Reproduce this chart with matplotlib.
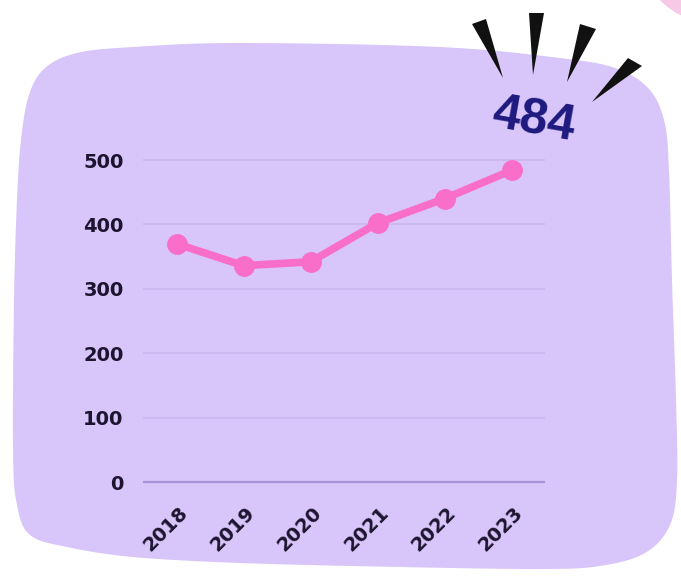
import numpy as np
import matplotlib.pyplot as plt
from matplotlib.patches import Polygon, Circle
from matplotlib.transforms import ScaledTranslation

years = ['2018', '2019', '2020', '2021', '2022', '2023']
values = [370, 336, 342, 402, 440, 484]
yticks = [0, 100, 200, 300, 400, 500]
highlight = '484'

W, H = 681, 576
fig = plt.figure(figsize=(W / 100, H / 100), dpi=100)
fig.patch.set_facecolor('white')

# background decoration, drawn in pixel coords
bg = fig.add_axes([0, 0, 1, 1], zorder=0)
bg.set_xlim(0, W)
bg.set_ylim(H, 0)
bg.axis('off')

bg.add_patch(Circle((720, -60), 85, color='#f7c9e6', lw=0))

edge = [(77, 53), (133, 47), (240, 43), (440, 47), (560, 58), (615, 68),
        (648, 88), (664, 120), (669, 170), (672, 280), (676, 400),
        (677, 480), (670, 525), (645, 553), (600, 566), (540, 569),
        (400, 567), (240, 563), (133, 557), (67, 547), (30, 535),
        (17, 505), (13, 450), (14, 300), (17, 200), (21, 140), (29, 95),
        (45, 68)]


def smooth(pts, n=12):
    # closed catmull-rom through the outline points
    p = np.array(pts, dtype=float)
    out = []
    k = len(p)
    for i in range(k):
        p0, p1, p2, p3 = p[i - 1], p[i], p[(i + 1) % k], p[(i + 2) % k]
        for t in np.linspace(0, 1, n, endpoint=False):
            t2, t3 = t * t, t * t * t
            out.append(0.5 * (2 * p1 + (-p0 + p2) * t
                              + (2 * p0 - 5 * p1 + 4 * p2 - p3) * t2
                              + (-p0 + 3 * p1 - 3 * p2 + p3) * t3))
    return np.array(out)


bg.add_patch(Polygon(smooth(edge), closed=True, color='#d8c5f9', lw=0))

# black burst strokes around the big number
rays = [[(472, 24), (486, 19), (503, 78)],
        [(529, 13), (544, 13), (533, 75)],
        [(580, 24), (596, 29), (567, 82)],
        [(628, 58), (642, 66), (592, 102)]]
for r in rays:
    bg.add_patch(Polygon(r, closed=True, color='#111111', lw=0))

bg.text(534, 120, highlight, fontsize=36, family='Liberation Sans',
        fontweight='bold', color='#1e1a7e', ha='center', va='center',
        rotation=-10)

# main chart
ax = fig.add_axes([0.2100, 0.1576, 0.5903, 0.5701], zorder=1)
ax.set_facecolor('none')
x = np.arange(len(years))
ax.plot(x, values, color='#f96ec8', lw=5.5, marker='o', ms=14,
        solid_capstyle='round', clip_on=False, zorder=3)

ax.set_xlim(-0.5, len(years) - 0.5)
ax.set_ylim(-5, 505)
ax.set_yticks(yticks)
ax.set_yticklabels([str(v) for v in yticks])
ax.set_xticks(x)
ax.set_xticklabels(years)

for v in yticks:
    if v == 0:
        ax.axhline(v, color='#a893d9', lw=1.6, zorder=1)
    else:
        ax.axhline(v, color='#cbb7ee', lw=1.2, zorder=1)

for s in ax.spines.values():
    s.set_visible(False)

ax.tick_params(axis='y', length=0, pad=14, labelsize=14, labelcolor='#1c1530')
ax.tick_params(axis='x', length=0, pad=13, labelsize=14, labelcolor='#1c1530')
for lbl in ax.get_yticklabels():
    lbl.set_fontweight('bold')
shift = ScaledTranslation(-11 / 100, 0, fig.dpi_scale_trans)
for lbl in ax.get_xticklabels():
    lbl.set_fontweight('bold')
    lbl.set_rotation(45)
    lbl.set_ha('center')
    lbl.set_transform(lbl.get_transform() + shift)

fig.savefig('out.png', dpi=100)
